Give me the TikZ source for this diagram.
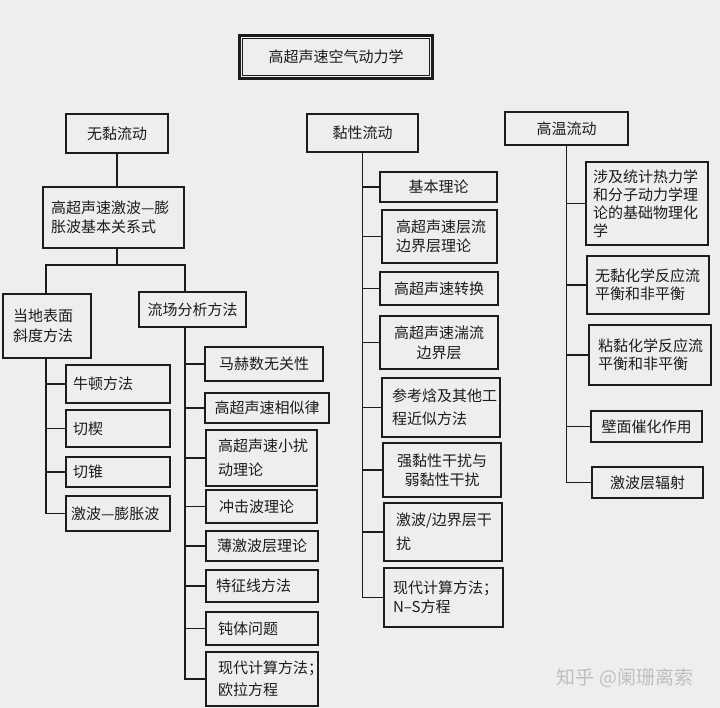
\documentclass[tikz,border=0pt]{standalone}
\usepackage{fontspec}
\setmainfont{Noto Sans CJK SC}
\definecolor{bg}{RGB}{238,238,236}
\definecolor{ink}{RGB}{28,28,28}
\tikzset{
  boxst/.style={draw=ink, line width=1.3pt, inner ysep=0pt, outer sep=0pt, text=ink},
  conn/.style={draw=ink, line width=1.3pt},
}
\newcommand\mybox[9]{%
  \pgfmathsetmacro\bxw{#4-#2}%
  \pgfmathsetmacro\bxh{#5-#3}%
  \pgfmathsetmacro\bxcx{(#2+#4)/2}%
  \pgfmathsetmacro\bxcy{(#3+#5)/2}%
  \pgfmathsetmacro\bxtw{#4-#2-2*#9}%
  \node[boxst, minimum width=\bxw pt, minimum height=\bxh pt, text width=\bxtw pt,
        inner xsep=#9 pt, align=#6, font=\fontsize{15}{#7}\selectfont] (#1) at (\bxcx,\bxcy) {#8};}
\begin{document}
\begin{tikzpicture}[x=1pt,y=-1pt]
\fill[bg] (0,0) rectangle (720,708);
\useasboundingbox (0,0) rectangle (720,708);
% title
\node[draw=ink, line width=3.2pt, minimum width=193pt, minimum height=43pt, inner sep=0pt,
      font=\fontsize{15}{18}\selectfont, text=ink] (title) at (336,57) {高超声速空气动力学};
\draw[ink, line width=1pt] ([shift={(5,5)}]title.north west) rectangle ([shift={(-5,-5)}]title.south east);
% level 1
\mybox{wn}{66}{114}{168}{153}{center}{18}{无黏流动}{4}
\mybox{nx}{307}{114}{418}{152}{center}{18}{黏性流动}{4}
\mybox{gw}{505}{112}{628}{145}{center}{18}{高温流动}{4}
% inviscid
\mybox{gj}{43}{187}{184}{248}{left}{19}{高超声速激波—膨\\胀波基本关系式}{8}
\mybox{dd}{3}{294}{91}{358}{left}{20}{当地表面\\斜度方法}{10}
\mybox{lc}{139}{292}{246}{327}{center}{18}{流场分析方法}{4}
\mybox{nd}{66}{365}{170}{403}{left}{18}{牛顿方法}{7}
\mybox{qx}{66}{410}{170}{447}{left}{18}{切楔}{7}
\mybox{qz}{66}{457}{170}{487}{left}{18}{切锥}{7}
\mybox{jp}{66}{496}{170}{531}{left}{18}{激波—膨胀波}{5}
\mybox{mh}{205}{347}{323}{381}{center}{18}{马赫数无关性}{4}
\mybox{xs}{205}{393}{329}{423}{center}{18}{高超声速相似律}{3}
\mybox{xr}{206}{430}{317}{486}{left}{24}{高超声速小扰\\动理论}{12}
\mybox{cj}{206}{490}{317}{523}{left}{18}{冲击波理论}{13}
\mybox{bj}{206}{531}{318}{561}{left}{18}{薄激波层理论}{11}
\mybox{tz}{206}{570}{318}{602}{left}{18}{特征线方法}{10}
\mybox{dt}{206}{612}{318}{645}{left}{18}{钝体问题}{12}
\mybox{xd}{206}{652}{318}{706}{left}{22}{现代计算方法；\\欧拉方程}{12}
% viscous
\mybox{jb}{380}{172}{497}{202}{center}{18}{基本理论}{4}
\mybox{cl}{382}{210}{497}{263}{left}{19}{高超声速层流\\边界层理论}{14}
\mybox{zh}{380}{272}{498}{305}{center}{18}{高超声速转换}{4}
\mybox{tl}{380}{316}{498}{369}{center}{20}{高超声速湍流\\边界层}{4}
\mybox{ck}{382}{378}{500}{437}{left}{23}{参考焓及其他工\\程近似方法}{10}
\mybox{qn}{383}{443}{501}{497}{center}{19}{强黏性干扰与\\弱黏性干扰}{4}
\mybox{jbg}{384}{503}{502}{561}{left}{24}{激波/边界层干\\扰}{12}
\mybox{ns}{384}{568}{503}{627}{left}{19}{现代计算方法；\\N–S方程}{9}
% high temperature
\mybox{sj}{586}{162}{708}{245}{left}{18}{涉及统计热力学\\和分子动力学理\\论的基础物理化\\学}{7}
\mybox{wh}{587}{256}{709}{314}{left}{18}{无黏化学反应流\\平衡和非平衡}{8}
\mybox{zn}{589}{325}{711}{385}{left}{18}{粘黏化学反应流\\平衡和非平衡}{9}
\mybox{bm}{591}{411}{702}{442}{center}{18}{壁面催化作用}{4}
\mybox{fs}{592}{467}{703}{498}{center}{18}{激波层辐射}{4}
% connectors: inviscid
\coordinate (jA) at (117,265);
\coordinate (jL) at (46,265);
\coordinate (jR) at (185,265);
\draw[conn] (wn.south -| jA) -- (gj.north -| jA);
\draw[conn] (gj.south -| jA) -- (jA);
\draw[conn] (dd.north -| jL) -- (jL) -- (jR) -- (lc.north -| jR);
\draw[conn] (dd.south -| jL) -- (jp.west -| jL) -- (jp.west);
\foreach \n in {nd,qx,qz} \draw[conn] (\n.west -| jL) -- (\n.west);
\draw[conn] (lc.south -| jR) -- (xd.west -| jR) -- (xd.west);
\foreach \n in {mh,xs,xr,cj,bj,tz,dt} \draw[conn] (\n.west -| jR) -- (\n.west);
% connectors: viscous
\draw[conn] (nx.south) -- (ns.west -| nx.south) -- (ns.west);
\foreach \n in {jb,cl,zh,tl,ck,qn,jbg} \draw[conn] (\n.west -| nx.south) -- (\n.west);
% connectors: high temperature
\draw[conn] (gw.south) -- (fs.west -| gw.south) -- (fs.west);
\foreach \n in {sj,wh,zn,bm} \draw[conn] (\n.west -| gw.south) -- (\n.west);
% watermark
\node[text=gray!50, font=\fontsize{19}{22}\selectfont] (wm) at (625,678) {知乎 @阑珊离索};
\end{tikzpicture}
\end{document}
